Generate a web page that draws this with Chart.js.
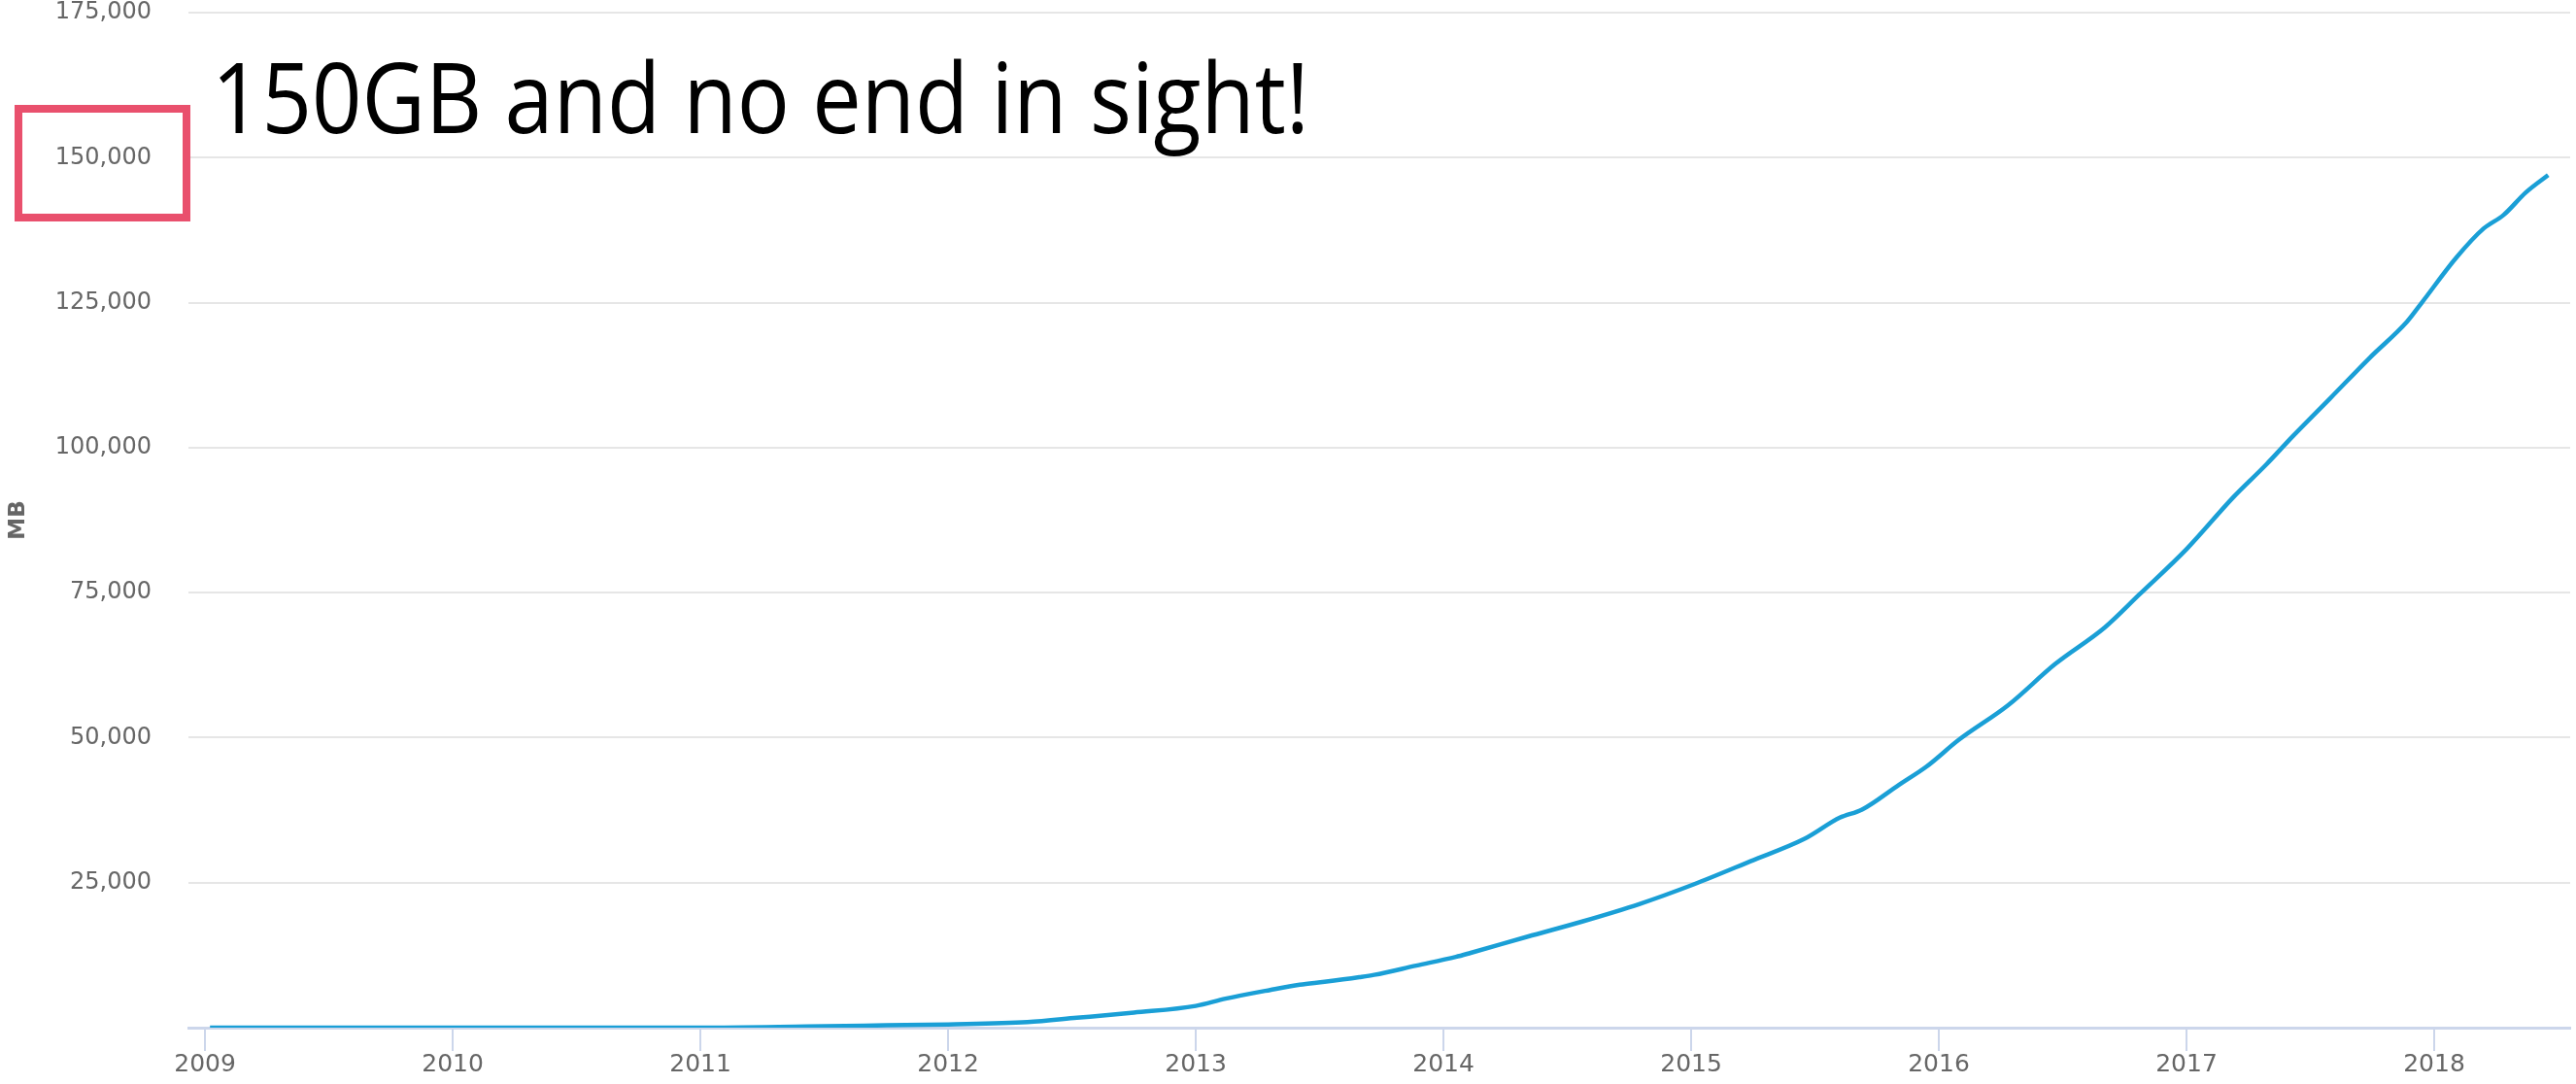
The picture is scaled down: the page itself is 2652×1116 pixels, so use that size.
<!DOCTYPE html>
<html>
<head>
<meta charset="utf-8">
<script src="https://cdn.jsdelivr.net/npm/chart.js@4.4.1/dist/chart.umd.min.js"></script>
<style>
    html, body { margin: 0; padding: 0; background: #fff; overflow: hidden; }
    #wrap { position: relative; width: 2652px; height: 1116px; }
    #headline {
        position: absolute; left: 218px; top: 48px;
        font-family: "Open Sans", sans-serif; font-weight: 400; font-size: 101px; line-height: 1;
        white-space: nowrap; color: #000; transform-origin: 0 0;
    }
    #marker {
        position: absolute; left: 15px; top: 108px; width: 181px; height: 120px;
        box-sizing: border-box; border: 8px solid #e9506d;
    }
</style>
</head>
<body>
<div id="wrap">
    <canvas id="graficoRepo"></canvas>
    <div id="marker"></div>
    <div id="headline">150GB and no end in sight!</div>
</div>
<script>
// fecha en años decimales y tamaño del repositorio en MB
const fechas = [2009.02, 2010.0, 2011.0, 2011.43, 2011.75, 2012.0, 2012.32, 2012.52, 2012.75, 2013.0,
    2013.12, 2013.3, 2013.42, 2013.52, 2013.66, 2013.72, 2013.89, 2014.05, 2014.11, 2014.34,
    2014.56, 2014.79, 2015.01, 2015.24, 2015.46, 2015.6, 2015.69, 2015.84, 2015.95, 2016.08,
    2016.28, 2016.47, 2016.67, 2016.81, 2017.0, 2017.19, 2017.32, 2017.43, 2017.58, 2017.74,
    2017.89, 2017.95, 2018.09, 2018.2, 2018.28, 2018.37, 2018.46];
const tamanoMB = [0, 0, 0, 200, 400, 560, 950, 1700, 2600, 3750,
    5000, 6500, 7400, 7900, 8700, 9100, 10700, 12200, 12900, 15700,
    18300, 21300, 24700, 28700, 32600, 36200, 37600, 41900, 45000, 49600,
    55600, 62700, 69000, 74700, 82500, 91500, 97000, 102000, 108500, 115500,
    121700, 125000, 132800, 137800, 140100, 144000, 147000];
const anios = [2009, 2010, 2011, 2012, 2013, 2014, 2015, 2016, 2017, 2018];
const titulo = '150GB and no end in sight!';

const gris = '#666666';
const ejeColor = '#ccd6eb';

const ctx = document.getElementById('graficoRepo').getContext('2d');
new Chart(ctx, {
    type: 'line',
    data: {
        datasets: [{
            label: 'MB',
            data: fechas.map((f, i) => ({ x: f, y: tamanoMB[i] })),
            borderColor: '#1a9fd6',
            borderWidth: 4.5,
            pointRadius: 0,
            fill: false,
            cubicInterpolationMode: 'monotone'
        }]
    },
    options: {
        responsive: true,
        maintainAspectRatio: false,
        animation: false,
        layout: { padding: { left: 0, right: 6, top: 13, bottom: 0 } },
        plugins: { legend: { display: false }, tooltip: { enabled: false } },
        scales: {
            x: {
                type: 'linear',
                min: 2008.933,
                max: 2018.549,
                afterBuildTicks: (scale) => { scale.ticks = anios.map(v => ({ value: v })); },
                afterFit: (scale) => { scale.height = 58; scale.paddingLeft = 0; scale.paddingRight = 0; },
                grid: { display: true, drawOnChartArea: false, drawTicks: true, tickLength: 24, color: ejeColor, lineWidth: 2 },
                border: { display: true, color: ejeColor, width: 3 },
                ticks: {
                    autoSkip: false, maxRotation: 0, padding: 2, color: gris,
                    font: { family: 'DejaVu Sans', size: 25, lineHeight: 1 },
                    callback: (v) => String(v)
                }
            },
            y: {
                min: 0,
                max: 175000,
                afterFit: (scale) => { scale.width = 194; scale.paddingTop = 0; scale.paddingBottom = 0; },
                grid: { color: '#e6e6e6', lineWidth: 2, drawTicks: false },
                border: { display: false },
                ticks: {
                    stepSize: 25000, padding: 38, color: gris,
                    font: { family: 'DejaVu Sans', size: 24, lineHeight: 1 },
                    callback: (v) => v === 0 ? '' : v.toLocaleString('en-US')
                },
                title: {
                    display: true, text: 'MB', color: gris,
                    font: { family: 'DejaVu Sans', size: 23, weight: 'bold', lineHeight: 1 },
                    padding: { top: 8, bottom: 0 }
                }
            }
        }
    }
});

// ajustar el ancho del titular al de la referencia
const h = document.getElementById('headline');
h.style.transform = 'scaleX(' + (1130 / h.offsetWidth) + ')';
</script>
</body>
</html>
